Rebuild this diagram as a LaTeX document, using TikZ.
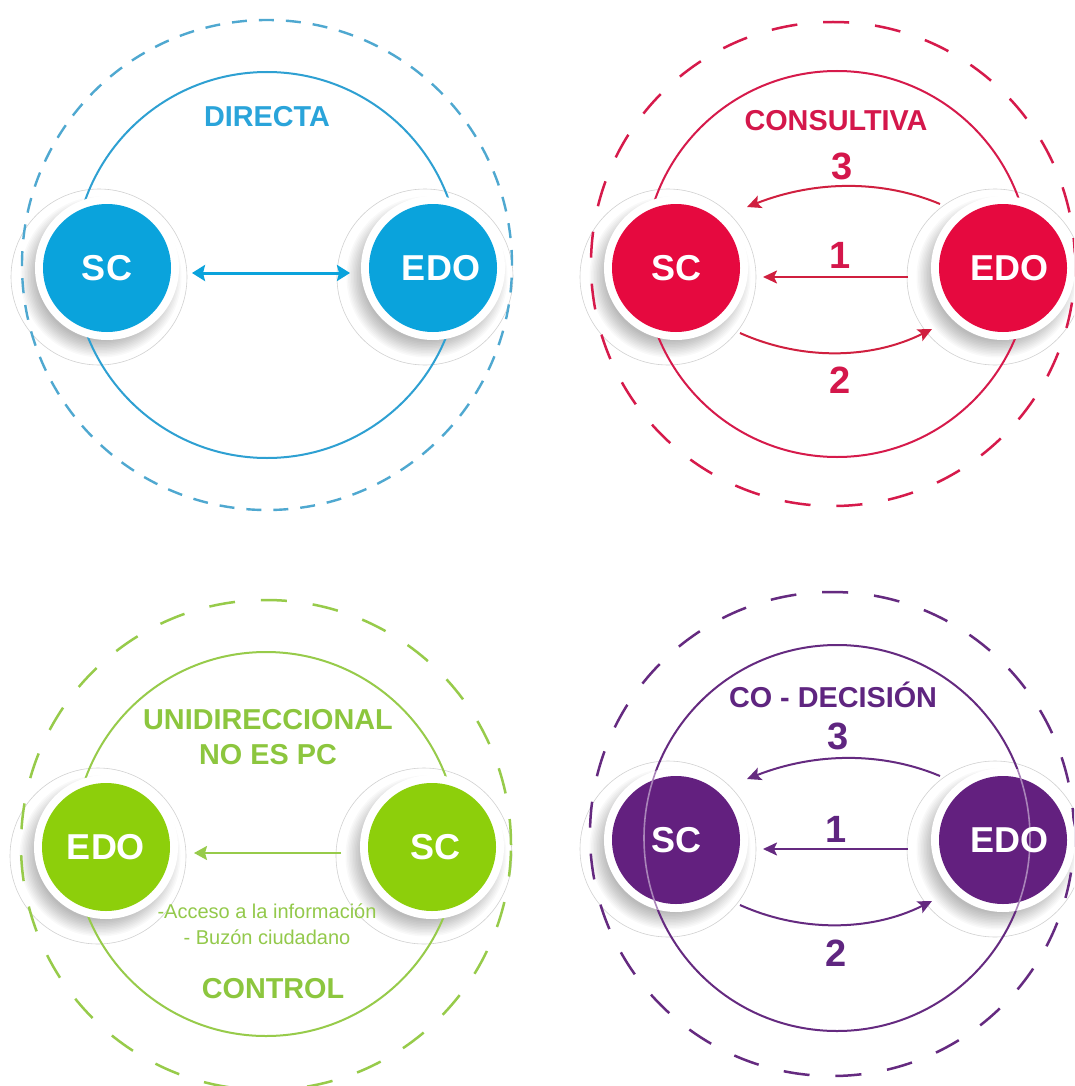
\documentclass[tikz,border=0pt]{standalone}
\usepackage{fontspec}
\setmainfont{Liberation Sans}
\usetikzlibrary{arrows.meta,calc}
\definecolor{bfill}{HTML}{0AA3DC}
\definecolor{bline}{HTML}{2EA0D2}
\definecolor{bdash}{HTML}{4FA8D0}
\definecolor{btext}{HTML}{2AA4DA}
\definecolor{rfill}{HTML}{E6093F}
\definecolor{rline}{HTML}{D61A4B}
\definecolor{rtext}{HTML}{D4174B}
\definecolor{rarrow}{HTML}{D01F3F}
\definecolor{gfill}{HTML}{8DCF0B}
\definecolor{gline}{HTML}{97CB4A}
\definecolor{gtext}{HTML}{8CC63E}
\definecolor{gsmall}{HTML}{93C94B}
\definecolor{pfill}{HTML}{63207F}
\definecolor{pline}{HTML}{652A80}
\definecolor{ptext}{HTML}{5F2580}
\tikzset{
  halo/.style={circle, draw=black!18, line width=0.6pt, fill=white, minimum size=176pt, inner sep=0pt},
  outerring/.style={line width=2.5pt, dash pattern=on 26pt off 26pt},
  innerring/.style={line width=2pt},
  whitedisc/.style={circle, fill=white, minimum size=144pt, inner sep=0pt},
  colordisc/.style={circle, minimum size=128pt, inner sep=0pt},
  disctext/.style={text=white, inner sep=0pt, font=\fontsize{36}{36}\selectfont\bfseries},
  title/.style={font=\fontsize{28.8}{30}\selectfont\bfseries, inner sep=0pt},
  digit/.style={font=\fontsize{38}{38}\selectfont\bfseries, inner sep=0pt},
  smalltext/.style={font=\fontsize{20}{22}\selectfont, inner sep=0pt},
  arr/.style={line width=2pt, -{Stealth[length=14pt,width=13pt,inset=3pt]}},
}
\newcommand\discshadow[1]{%
  \foreach \k in {0,...,11}{%
    \fill[black,opacity=0.022] ($(#1)+(-6,-9)$) circle ({64pt+1.5pt*\k});}}
\begin{document}
\begin{tikzpicture}[x=1pt,y=1pt]
\clip (0,0) rectangle (1074,-1086);
\fill[white] (0,0) rectangle (1074,-1086);

% ---------------- Q1 DIRECTA ----------------
\coordinate (c1) at (267,-265);
\coordinate (p1L) at (107,-268);
\coordinate (p1R) at (433,-268);
\node[halo] (h1L) at ($(p1L)+(-8,-9)$) {};
\node[halo] (h1R) at ($(p1R)+(-8,-9)$) {};
\discshadow{p1L}\discshadow{p1R}
\draw[bdash, line width=2.4pt, dash pattern=on 15pt off 12pt] (c1) circle (245pt);
\draw[innerring, bline] (c1) circle (193pt);
\node[whitedisc] at (p1L) {};
\node[whitedisc] at (p1R) {};
\node[colordisc, fill=bfill] (n1L) at (p1L) {};
\node[colordisc, fill=bfill] (n1R) at (p1R) {};
\node[disctext] at (n1L) {SC};
\node[disctext] at ($(n1R)+(8,0)$) {EDO};
\draw[bfill, line width=3pt, {Stealth[length=13pt,width=16pt,inset=2pt]}-{Stealth[length=13pt,width=16pt,inset=2pt]}]
  ($(n1L)+(85,-5)$) -- ($(n1R)+(-83,-5)$);
\node[title, text=btext, anchor=base] at (267,-127) {DIRECTA};

% ---------------- Q2 CONSULTIVA ----------------
\coordinate (c2) at (837,-264);
\coordinate (d2) at (833,-264);
\coordinate (p2L) at (676,-268);
\coordinate (p2R) at (1003,-268);
\node[halo] (h2L) at ($(p2L)+(-8,-9)$) {};
\node[halo] (h2R) at ($(p2R)+(-8,-9)$) {};
\discshadow{p2L}\discshadow{p2R}
\draw[outerring, rline] (d2) circle (242pt);
\draw[innerring, rline] (c2) circle (193pt);
\node[whitedisc] at (p2L) {};
\node[whitedisc] at (p2R) {};
\node[colordisc, fill=rfill] (n2L) at (p2L) {};
\node[colordisc, fill=rfill] (n2R) at (p2R) {};
\node[disctext] at (n2L) {SC};
\node[disctext] at ($(n2R)+(6,0)$) {EDO};
\draw[arr, rarrow] ($(n2R)+(-63,64)$) .. controls ($(n2R)+(-120,88)$) and ($(n2L)+(140,88)$) .. ($(n2L)+(71,61)$);
\draw[arr, rarrow] ($(n2R)+(-95,-9)$) -- ($(n2L)+(87,-9)$);
\draw[arr, rarrow] ($(n2L)+(64,-65)$) .. controls ($(n2L)+(124,-92)$) and ($(n2R)+(-133,-92)$) .. ($(n2R)+(-71,-61)$);
\node[title, text=rtext, anchor=base] at (836,-131) {CONSULTIVA};
\node[digit, text=rtext, anchor=base] at (842,-180) {3};
\node[digit, text=rtext, anchor=base] at (840,-268) {1};
\node[digit, text=rtext, anchor=base] at (840,-393) {2};

% ---------------- Q3 CONTROL ----------------
\coordinate (c3) at (266,-844);
\coordinate (d3) at (266,-845);
\coordinate (p3L) at (106,-847);
\coordinate (p3R) at (432,-847);
\node[halo] (h3L) at ($(p3L)+(-8,-9)$) {};
\node[halo] (h3R) at ($(p3R)+(-8,-9)$) {};
\discshadow{p3L}\discshadow{p3R}
\draw[outerring, gline] (d3) circle (245pt);
\draw[innerring, gline] (c3) circle (192pt);
\node[whitedisc] at (p3L) {};
\node[whitedisc] at (p3R) {};
\node[colordisc, fill=gfill] (n3L) at (p3L) {};
\node[colordisc, fill=gfill] (n3R) at (p3R) {};
\node[disctext] at (n3L) {EDO};
\node[disctext] at ($(n3R)+(3,0)$) {SC};
\draw[line width=2pt, gline, -{Stealth[length=13pt,width=14pt,inset=2pt]}] ($(n3R)+(-91,-6)$) -- ($(n3L)+(88,-6)$);
\node[title, text=gtext, anchor=base] at (268,-729) {UNIDIRECCIONAL};
\node[title, text=gtext, anchor=base] at (268,-764) {NO ES PC};
\node[smalltext, text=gsmall, anchor=base] at (267,-918) {-Acceso a la información};
\node[smalltext, text=gsmall, anchor=base] at (267,-944) {- Buzón ciudadano};
\node[title, text=gtext, anchor=base] at (273,-998) {CONTROL};

% ---------------- Q4 CO-DECISION ----------------
\coordinate (c4) at (837,-838);
\coordinate (d4) at (832,-834);
\coordinate (p4L) at (676,-840);
\coordinate (p4R) at (1003,-840);
\node[halo] (h4L) at ($(p4L)+(-8,-9)$) {};
\node[halo] (h4R) at ($(p4R)+(-8,-9)$) {};
\discshadow{p4L}\discshadow{p4R}
\draw[outerring, pline] (d4) circle (242pt);
\draw[innerring, pline] (c4) circle (193pt);
\node[whitedisc] at (p4L) {};
\node[whitedisc] at (p4R) {};
\node[colordisc, fill=pfill] (n4L) at (p4L) {};
\node[colordisc, fill=pfill] (n4R) at (p4R) {};
\begin{scope}
  \clip (n4L.center) circle (72pt) (n4R.center) circle (72pt);
  \draw[line width=1.6pt, pfill!55!white] (c4) circle (193pt);
\end{scope}
\node[disctext] at (n4L) {SC};
\node[disctext] at ($(n4R)+(6,0)$) {EDO};
\draw[arr, pline] ($(n4R)+(-63,64)$) .. controls ($(n4R)+(-120,88)$) and ($(n4L)+(140,88)$) .. ($(n4L)+(71,61)$);
\draw[arr, pline] ($(n4R)+(-95,-9)$) -- ($(n4L)+(87,-9)$);
\draw[arr, pline] ($(n4L)+(64,-65)$) .. controls ($(n4L)+(124,-92)$) and ($(n4R)+(-133,-92)$) .. ($(n4R)+(-71,-61)$);
\node[title, text=ptext, anchor=base] at (833,-707) {CO - DECISIÓN};
\node[digit, text=ptext, anchor=base] at (838,-749) {3};
\node[digit, text=ptext, anchor=base] at (836,-842) {1};
\node[digit, text=ptext, anchor=base] at (836,-966) {2};
\end{tikzpicture}
\end{document}
